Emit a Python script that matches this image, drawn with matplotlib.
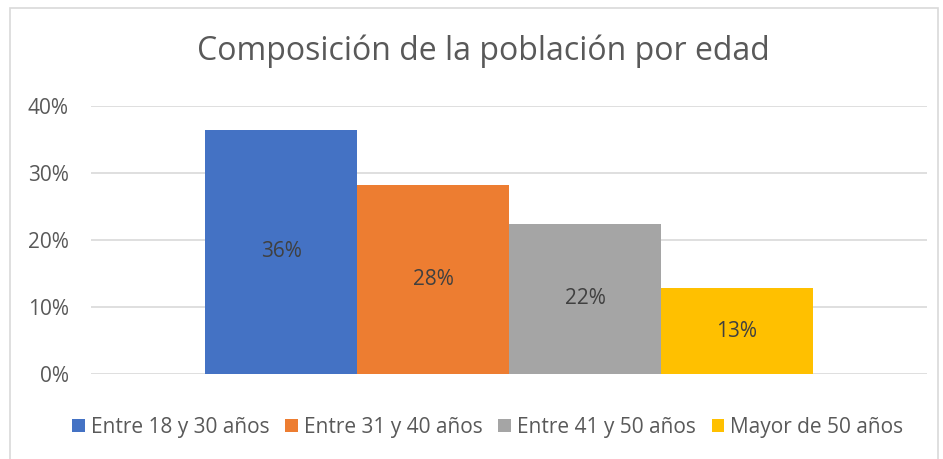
import matplotlib
matplotlib.use("Agg")
import matplotlib.pyplot as plt
from matplotlib.patches import Rectangle

categories = ["Entre 18 y 30 años", "Entre 31 y 40 años", "Entre 41 y 50 años", "Mayor de 50 años"]
values = [36.4, 28.2, 22.4, 12.8]
labels = ["36%", "28%", "22%", "13%"]
colors = ["#4472C4", "#ED7D31", "#A5A5A5", "#FFC000"]
yticks = [0, 10, 20, 30, 40]

plt.rcParams["font.family"] = ["Open Sans", "DejaVu Sans"]
text_color = "#595959"

fig = plt.figure(figsize=(9.43, 4.59), dpi=100)
ax = fig.add_axes([91 / 943, 1 - 374 / 459, 836 / 943, (374 - 105.7) / 459])

width = 0.727 / 4
n = len(values)
for i, (cat, val, lab, col) in enumerate(zip(categories, values, labels, colors)):
    x = (i - (n - 1) / 2) * width
    ax.bar(x, val, width=width, color=col, label=cat, zorder=2)
    ax.text(x, val / 2, lab, ha="center", va="center", fontsize=15, color="#404040", zorder=3)

ax.set_xlim(-0.5, 0.5)
ax.set_ylim(0, 40)
ax.set_yticks(yticks)
ax.set_yticklabels([f"{t}%" for t in yticks], fontsize=15, color=text_color)
ax.set_xticks([])
ax.tick_params(axis="y", length=0, pad=16)
ax.grid(axis="y", color="#d9d9d9", linewidth=1.2, zorder=0)
for s in ax.spines.values():
    s.set_visible(False)

fig.text(483 / 943, 1 - 51 / 459, "Composición de la población por edad",
         ha="center", va="center", fontsize=23, color=text_color)

fig.legend(loc="center", bbox_to_anchor=(488 / 943, 1 - 427 / 459), ncol=4, frameon=False,
           fontsize=15, handlelength=0.6, handleheight=0.6, handletextpad=0.3,
           columnspacing=0.75, labelcolor=text_color)

fig.patches.append(Rectangle((10 / 943, -0.01), 928 / 943, 1 - 8 / 459 + 0.01,
                             transform=fig.transFigure, fill=False,
                             edgecolor="#d9d9d9", linewidth=1.2))

fig.savefig("out.png", dpi=100)
